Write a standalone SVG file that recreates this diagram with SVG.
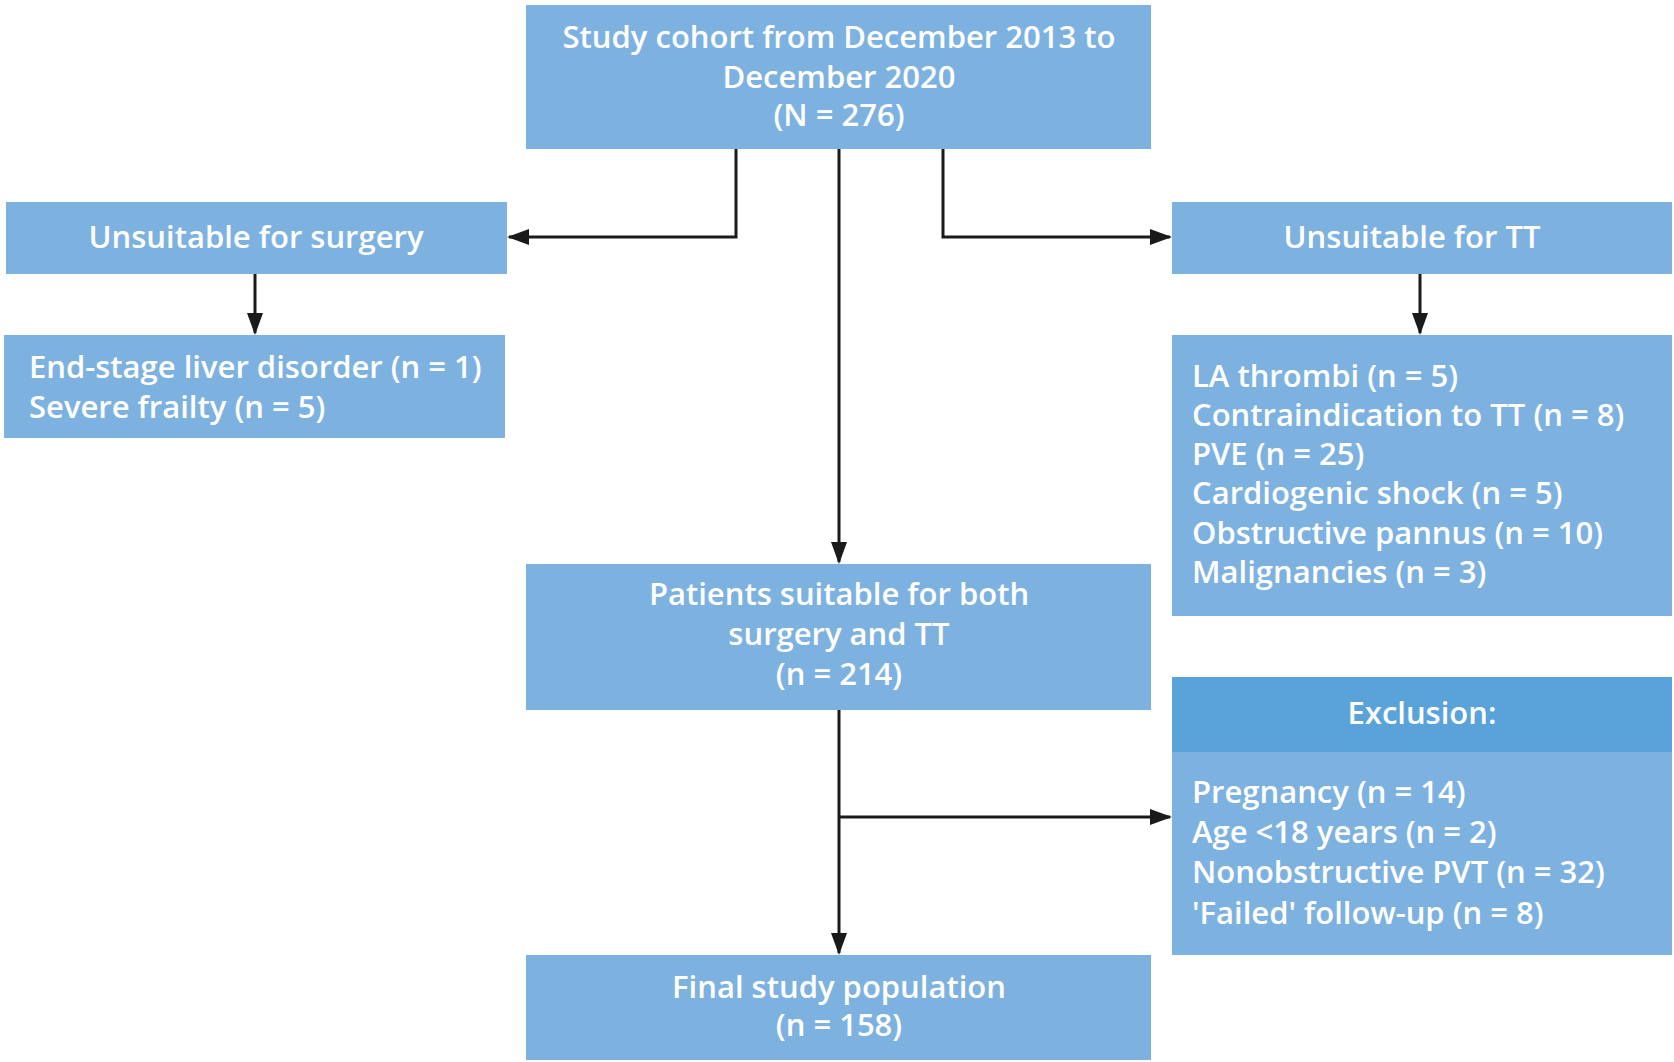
<svg xmlns="http://www.w3.org/2000/svg" width="1674" height="1062" viewBox="0 0 1674 1062">
<style>
.box{fill:#7db2e0}
.hdr{fill:#5aa3da}
.t{font-family:"Open Sans","Noto Sans",sans-serif;font-size:31px;font-weight:600;fill:#ffffff}
.c{text-anchor:middle}
.ln{fill:none;stroke:#1a1a1a;stroke-width:3}
</style>
<defs>
<marker id="ah" markerWidth="22" markerHeight="16" refX="20" refY="8" orient="auto" markerUnits="userSpaceOnUse">
<path d="M0,0 L22,8 L0,16 Z" fill="#1a1a1a"/>
</marker>
</defs>
<rect width="1674" height="1062" fill="#ffffff"/>
<g id="connectors">
<path class="ln" d="M736,149 V237 H509" marker-end="url(#ah)"/>
<path class="ln" d="M839,149 V562" marker-end="url(#ah)"/>
<path class="ln" d="M943,149 V237 H1170" marker-end="url(#ah)"/>
<path class="ln" d="M255,274 V333" marker-end="url(#ah)"/>
<path class="ln" d="M1420,274 V333" marker-end="url(#ah)"/>
<path class="ln" d="M839,710 V953" marker-end="url(#ah)"/>
<path class="ln" d="M839,817 H1170" marker-end="url(#ah)"/>
</g>
<g id="cohort">
<rect class="box" x="526" y="5" width="625" height="144"/>
<text class="t c" x="839" y="48">Study cohort from December 2013 to</text>
<text class="t c" x="839" y="88">December 2020</text>
<text class="t c" x="839" y="126">(N = 276)</text>
</g>
<g id="unsuitable-surgery">
<rect class="box" x="6" y="202" width="501" height="72"/>
<text class="t c" x="256" y="248">Unsuitable for surgery</text>
</g>
<g id="surgery-reasons">
<rect class="box" x="4" y="335" width="501" height="103"/>
<text class="t" x="29" y="378">End-stage liver disorder (n = 1)</text>
<text class="t" x="29" y="418">Severe frailty (n = 5)</text>
</g>
<g id="unsuitable-tt">
<rect class="box" x="1172" y="202" width="500" height="72"/>
<text class="t c" x="1412" y="248">Unsuitable for TT</text>
</g>
<g id="tt-reasons">
<rect class="box" x="1172" y="335" width="500" height="281"/>
<text class="t" x="1192" y="387">LA thrombi (n = 5)</text>
<text class="t" x="1192" y="426">Contraindication to TT (n = 8)</text>
<text class="t" x="1192" y="465">PVE (n = 25)</text>
<text class="t" x="1192" y="504">Cardiogenic shock (n = 5)</text>
<text class="t" x="1192" y="544">Obstructive pannus (n = 10)</text>
<text class="t" x="1192" y="583">Malignancies (n = 3)</text>
</g>
<g id="suitable-both">
<rect class="box" x="526" y="564" width="625" height="146"/>
<text class="t c" x="839" y="605">Patients suitable for both</text>
<text class="t c" x="839" y="645">surgery and TT</text>
<text class="t c" x="839" y="685">(n = 214)</text>
</g>
<g id="exclusion">
<rect class="box" x="1172" y="677" width="500" height="278"/>
<rect class="hdr" x="1172" y="677" width="500" height="75"/>
<text class="t c" x="1422" y="724">Exclusion:</text>
<text class="t" x="1192" y="803">Pregnancy (n = 14)</text>
<text class="t" x="1192" y="843">Age &lt;18 years (n = 2)</text>
<text class="t" x="1192" y="883">Nonobstructive PVT (n = 32)</text>
<text class="t" x="1192" y="924">'Failed' follow-up (n = 8)</text>
</g>
<g id="final">
<rect class="box" x="526" y="955" width="625" height="105"/>
<text class="t c" x="839" y="998">Final study population</text>
<text class="t c" x="839" y="1036">(n = 158)</text>
</g>
</svg>
